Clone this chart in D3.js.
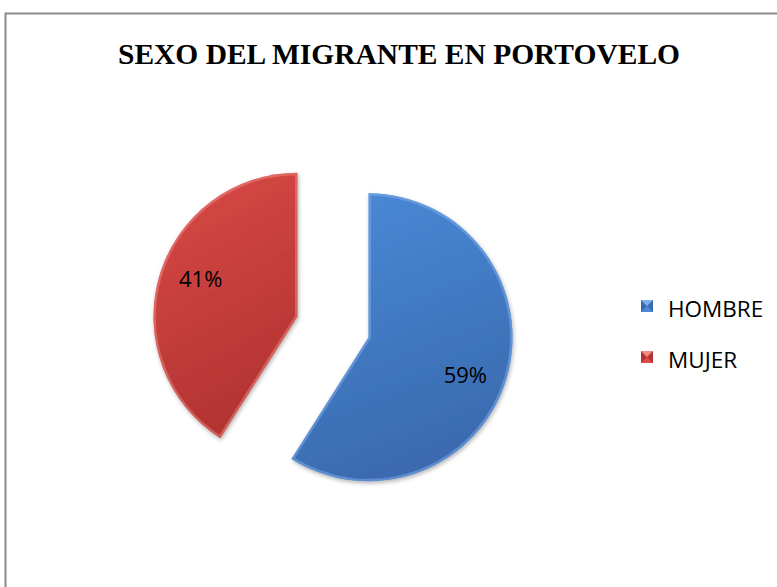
<!DOCTYPE html>
<html>
<head>
<meta charset="utf-8">
<script src="https://cdn.jsdelivr.net/npm/d3@7"></script>
<style>
  body { margin: 0; background: #fff; }
  svg { display: block; }
</style>
</head>
<body>
<script>
// chart data
var categories = ["HOMBRE", "MUJER"];
var values = [59, 41];
var labels = ["59%", "41%"];
var titleText = "SEXO DEL MIGRANTE EN PORTOVELO";

var colorsTop = ["#4a8ad8", "#da4a46"];
var colorsBottom = ["#3a6bb0", "#b33432"];
var colorsEdge = ["#7fb0ec", "#ef8a86"];

var W = 777, H = 587;
var cx = 333, cy = 327, r = 144, explode = 37;

var svg = d3.select("body").append("svg")
    .attr("width", W)
    .attr("height", H);

var defs = svg.append("defs");

var shadow = defs.append("filter").attr("id", "shadow")
    .attr("x", "-20%").attr("y", "-20%").attr("width", "140%").attr("height", "140%");
shadow.append("feDropShadow")
    .attr("dx", 1).attr("dy", 2).attr("stdDeviation", 2)
    .attr("flood-color", "#000").attr("flood-opacity", 0.3);

categories.forEach(function (c, i) {
  var g = defs.append("linearGradient").attr("id", "grad" + i)
      .attr("x1", 0).attr("y1", 0).attr("x2", 0.3).attr("y2", 1);
  g.append("stop").attr("offset", "0%").attr("stop-color", colorsTop[i]);
  g.append("stop").attr("offset", "100%").attr("stop-color", colorsBottom[i]);
});

// frame
svg.append("rect")
    .attr("x", 5.5).attr("y", 13.5)
    .attr("width", W + 20).attr("height", H + 20)
    .attr("fill", "none")
    .attr("stroke", "#8a8a8a")
    .attr("stroke-width", 2);

// title
svg.append("text")
    .attr("x", 399)
    .attr("y", 64)
    .attr("text-anchor", "middle")
    .attr("font-family", "'Liberation Serif', 'Times New Roman', serif")
    .attr("font-weight", "bold")
    .attr("font-size", 28.5)
    .attr("textLength", 562)
    .attr("lengthAdjust", "spacingAndGlyphs")
    .attr("fill", "#000")
    .text(titleText);

var pie = d3.pie().sort(null).value(function (d) { return d; });
var arcs = pie(values);
var arc = d3.arc().innerRadius(0).outerRadius(r);

function labelPos(d) {
  var a = (d.startAngle + d.endAngle) / 2;
  var k = r * 0.7;
  return [k * Math.sin(a), -k * Math.cos(a) * 1.35];
}

var slices = svg.selectAll("g.slice")
    .data(arcs)
    .enter()
    .append("g")
    .attr("class", "slice")
    .attr("transform", function (d) {
      var a = (d.startAngle + d.endAngle) / 2;
      return "translate(" + (cx + explode * Math.sin(a)) + "," + (cy - explode * Math.cos(a)) + ")";
    });

slices.append("clipPath")
    .attr("id", function (d, i) { return "clip" + i; })
    .append("path")
    .attr("d", arc);

slices.append("path")
    .attr("d", arc)
    .attr("fill", function (d, i) { return "url(#grad" + i + ")"; })
    .attr("filter", "url(#shadow)");

// bevel edge
slices.append("path")
    .attr("d", arc)
    .attr("fill", "none")
    .attr("stroke", function (d, i) { return colorsEdge[i]; })
    .attr("stroke-opacity", 0.5)
    .attr("stroke-width", 5)
    .attr("clip-path", function (d, i) { return "url(#clip" + i + ")"; });

slices.append("text")
    .attr("transform", function (d) { return "translate(" + labelPos(d) + ")"; })
    .attr("dy", "0.36em")
    .attr("text-anchor", "middle")
    .attr("font-family", "'Open Sans', sans-serif")
    .attr("font-size", 22)
    .attr("fill", "#000")
    .text(function (d, i) { return labels[i]; });

// legend
var legend = svg.selectAll("g.legend")
    .data(categories)
    .enter()
    .append("g")
    .attr("class", "legend")
    .attr("transform", function (d, i) { return "translate(641," + (300 + i * 51) + ")"; });

legend.append("rect")
    .attr("width", 12).attr("height", 12)
    .attr("fill", function (d, i) { return colorsBottom[i]; });
legend.append("path")
    .attr("d", "M0,0L12,0L6,6Z")
    .attr("fill", function (d, i) { return colorsEdge[i]; });
legend.append("path")
    .attr("d", "M0,12L12,12L6,6Z")
    .attr("fill", function (d, i) { return colorsTop[i]; });

legend.append("text")
    .attr("x", 27)
    .attr("y", 16.5)
    .attr("font-family", "'Open Sans', sans-serif")
    .attr("font-size", 22.5)
    .attr("fill", "#000")
    .text(function (d) { return d; });
</script>
</body>
</html>
